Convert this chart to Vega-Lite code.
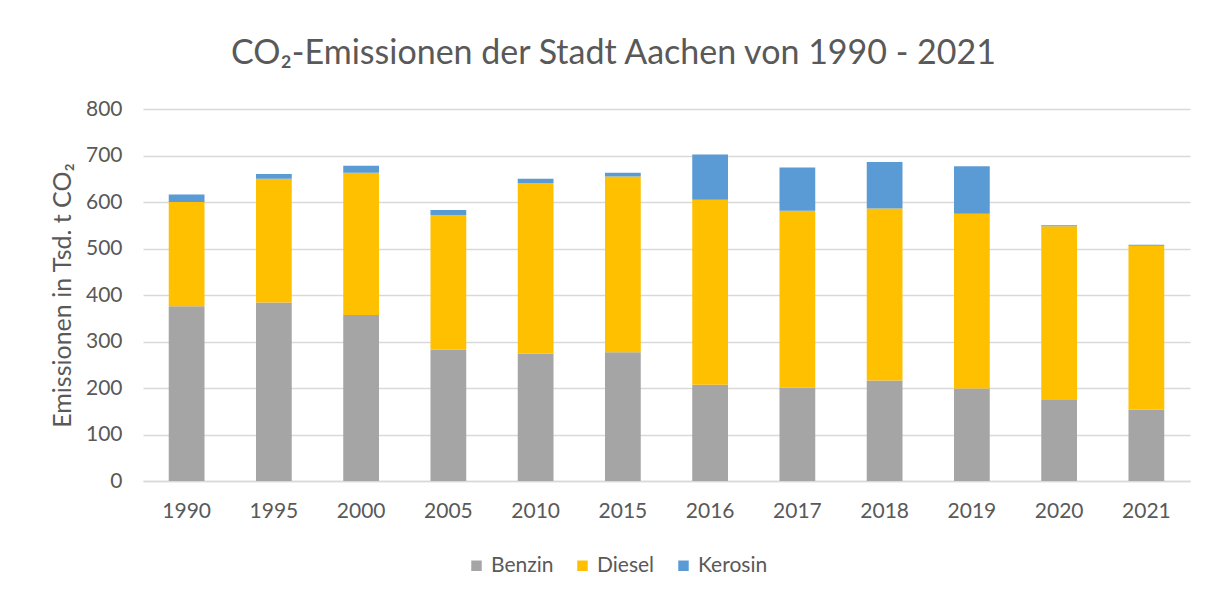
{
  "$schema": "https://vega.github.io/schema/vega-lite/v6.json",
  "width": 1047,
  "height": 372,
  "autosize": {"type": "none"},
  "padding": {"left": 143, "top": 109, "right": 16, "bottom": 113},
  "background": "white",
  "title": {
    "text": "CO₂-Emissionen der Stadt Aachen von 1990 - 2021",
    "font": "Lato",
    "fontSize": 34,
    "fontWeight": "normal",
    "color": "#595959",
    "anchor": "middle",
    "dx": -53,
    "offset": 27
  },
  "data": {
    "values": [
      {"Jahr": "1990", "Art": "Benzin", "Wert": 376},
      {"Jahr": "1990", "Art": "Diesel", "Wert": 224},
      {"Jahr": "1990", "Art": "Kerosin", "Wert": 16},
      {"Jahr": "1995", "Art": "Benzin", "Wert": 384},
      {"Jahr": "1995", "Art": "Diesel", "Wert": 266},
      {"Jahr": "1995", "Art": "Kerosin", "Wert": 10},
      {"Jahr": "2000", "Art": "Benzin", "Wert": 357},
      {"Jahr": "2000", "Art": "Diesel", "Wert": 306},
      {"Jahr": "2000", "Art": "Kerosin", "Wert": 15},
      {"Jahr": "2005", "Art": "Benzin", "Wert": 283},
      {"Jahr": "2005", "Art": "Diesel", "Wert": 289},
      {"Jahr": "2005", "Art": "Kerosin", "Wert": 11},
      {"Jahr": "2010", "Art": "Benzin", "Wert": 274},
      {"Jahr": "2010", "Art": "Diesel", "Wert": 367},
      {"Jahr": "2010", "Art": "Kerosin", "Wert": 9},
      {"Jahr": "2015", "Art": "Benzin", "Wert": 277},
      {"Jahr": "2015", "Art": "Diesel", "Wert": 378},
      {"Jahr": "2015", "Art": "Kerosin", "Wert": 8},
      {"Jahr": "2016", "Art": "Benzin", "Wert": 207},
      {"Jahr": "2016", "Art": "Diesel", "Wert": 398},
      {"Jahr": "2016", "Art": "Kerosin", "Wert": 97},
      {"Jahr": "2017", "Art": "Benzin", "Wert": 201},
      {"Jahr": "2017", "Art": "Diesel", "Wert": 380},
      {"Jahr": "2017", "Art": "Kerosin", "Wert": 93},
      {"Jahr": "2018", "Art": "Benzin", "Wert": 216},
      {"Jahr": "2018", "Art": "Diesel", "Wert": 370},
      {"Jahr": "2018", "Art": "Kerosin", "Wert": 100},
      {"Jahr": "2019", "Art": "Benzin", "Wert": 199},
      {"Jahr": "2019", "Art": "Diesel", "Wert": 376},
      {"Jahr": "2019", "Art": "Kerosin", "Wert": 102},
      {"Jahr": "2020", "Art": "Benzin", "Wert": 174},
      {"Jahr": "2020", "Art": "Diesel", "Wert": 374},
      {"Jahr": "2020", "Art": "Kerosin", "Wert": 2},
      {"Jahr": "2021", "Art": "Benzin", "Wert": 154},
      {"Jahr": "2021", "Art": "Diesel", "Wert": 352},
      {"Jahr": "2021", "Art": "Kerosin", "Wert": 2}
    ]
  },
  "mark": {"type": "bar"},
  "encoding": {
    "x": {
      "field": "Jahr",
      "type": "ordinal",
      "scale": {"paddingInner": 0.59, "paddingOuter": 0.295},
      "axis": {
        "title": null,
        "labelAngle": 0,
        "labelFont": "Lato",
        "labelFontSize": 21,
        "labelColor": "#595959",
        "labelPadding": 19,
        "ticks": false,
        "domainColor": "#d9d9d9",
        "domainWidth": 1.5
      }
    },
    "y": {
      "field": "Wert",
      "type": "quantitative",
      "stack": "zero",
      "scale": {"domain": [0, 800], "nice": false},
      "axis": {
        "title": "Emissionen in Tsd. t CO₂",
        "titleFont": "Lato",
        "titleFontSize": 25,
        "titleFontWeight": "normal",
        "titleColor": "#595959",
        "titleX": -81,
        "titleY": 186,
        "titleAlign": "center",
        "titleBaseline": "middle",
        "titleAngle": -90,
        "values": [0, 100, 200, 300, 400, 500, 600, 700, 800],
        "labelFont": "Lato",
        "labelFontSize": 21,
        "labelColor": "#595959",
        "labelPadding": 21,
        "ticks": false,
        "domain": false,
        "gridColor": "#d9d9d9",
        "gridWidth": 1.5
      }
    },
    "order": {"field": "Art", "sort": "ascending"},
    "color": {
      "field": "Art",
      "type": "nominal",
      "scale": {
        "domain": ["Benzin", "Diesel", "Kerosin"],
        "range": ["#a5a5a5", "#ffc000", "#5b9bd5"]
      },
      "legend": {
        "title": null,
        "orient": "none",
        "direction": "horizontal",
        "legendX": 323,
        "legendY": 446,
        "symbolType": "square",
        "symbolSize": 110,
        "symbolStrokeWidth": 0,
        "labelFont": "Lato",
        "labelFontSize": 21,
        "labelColor": "#595959",
        "columnPadding": 18,
        "labelOffset": 4
      }
    }
  },
  "config": {"view": {"stroke": null}}
}
